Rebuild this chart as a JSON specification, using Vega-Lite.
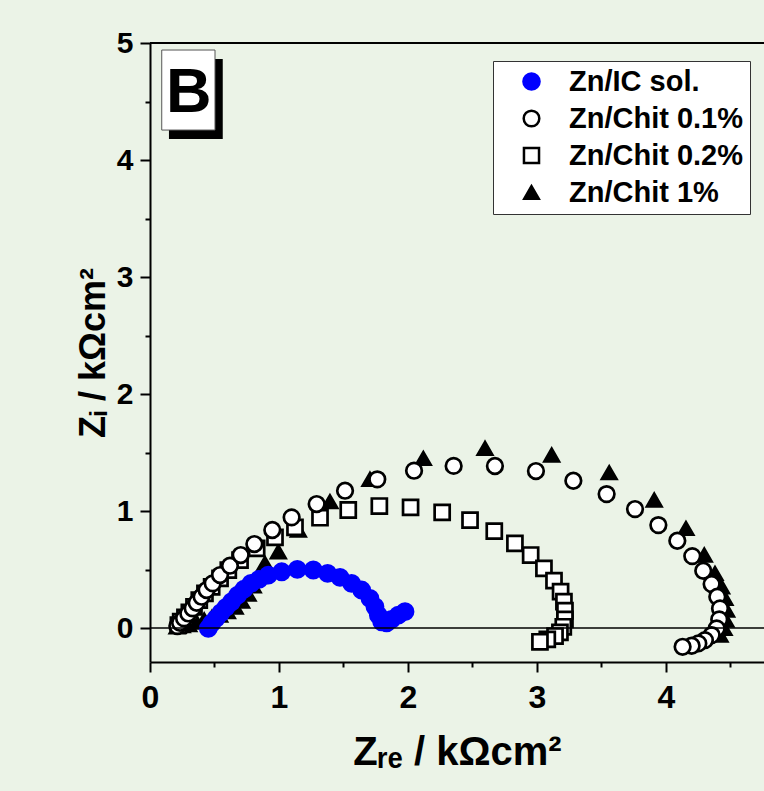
{
  "$schema": "https://vega.github.io/schema/vega-lite/v6.json",
  "width": 614,
  "height": 619,
  "autosize": {"type": "none"},
  "padding": {"left": 150, "top": 43, "right": 0, "bottom": 129},
  "background": "#ebf3e7",
  "data": {"values": [{}]},
  "config": {
    "view": {"stroke": null},
    "legend": {
      "orient": "none",
      "legendX": 343,
      "legendY": 18,
      "fillColor": "#ffffff",
      "strokeColor": "#333333",
      "strokeWidth": 1,
      "padding": 6,
      "labelFont": "Liberation Sans",
      "labelFontWeight": "bold",
      "labelFontSize": 29,
      "labelColor": "#000000",
      "labelLimit": 400,
      "labelOffset": 23,
      "symbolOffset": 18,
      "rowPadding": 7,
      "symbolStrokeWidth": 2.5
    }
  },
  "datasets": {
    "pts": [
      {"series": "Zn/Chit 1%", "zre": 0.21, "zi": 0.01},
      {"series": "Zn/Chit 1%", "zre": 0.25, "zi": 0.02},
      {"series": "Zn/Chit 1%", "zre": 0.3, "zi": 0.03},
      {"series": "Zn/Chit 1%", "zre": 0.36, "zi": 0.05},
      {"series": "Zn/Chit 1%", "zre": 0.42, "zi": 0.07},
      {"series": "Zn/Chit 1%", "zre": 0.48, "zi": 0.09},
      {"series": "Zn/Chit 1%", "zre": 0.54, "zi": 0.11},
      {"series": "Zn/Chit 1%", "zre": 0.6, "zi": 0.14},
      {"series": "Zn/Chit 1%", "zre": 0.66, "zi": 0.18},
      {"series": "Zn/Chit 1%", "zre": 0.71, "zi": 0.23},
      {"series": "Zn/Chit 1%", "zre": 0.76, "zi": 0.29},
      {"series": "Zn/Chit 1%", "zre": 0.8, "zi": 0.36},
      {"series": "Zn/Chit 1%", "zre": 0.84, "zi": 0.44},
      {"series": "Zn/Chit 1%", "zre": 0.891, "zi": 0.553},
      {"series": "Zn/Chit 1%", "zre": 0.995, "zi": 0.652},
      {"series": "Zn/Chit 1%", "zre": 1.15, "zi": 0.838},
      {"series": "Zn/Chit 1%", "zre": 1.395, "zi": 1.08},
      {"series": "Zn/Chit 1%", "zre": 1.705, "zi": 1.271},
      {"series": "Zn/Chit 1%", "zre": 2.119, "zi": 1.45},
      {"series": "Zn/Chit 1%", "zre": 2.597, "zi": 1.536},
      {"series": "Zn/Chit 1%", "zre": 3.114, "zi": 1.479},
      {"series": "Zn/Chit 1%", "zre": 3.56, "zi": 1.328},
      {"series": "Zn/Chit 1%", "zre": 3.909, "zi": 1.094},
      {"series": "Zn/Chit 1%", "zre": 4.155, "zi": 0.852},
      {"series": "Zn/Chit 1%", "zre": 4.297, "zi": 0.624},
      {"series": "Zn/Chit 1%", "zre": 4.38, "zi": 0.467},
      {"series": "Zn/Chit 1%", "zre": 4.431, "zi": 0.353},
      {"series": "Zn/Chit 1%", "zre": 4.457, "zi": 0.254},
      {"series": "Zn/Chit 1%", "zre": 4.47, "zi": 0.154},
      {"series": "Zn/Chit 1%", "zre": 4.465, "zi": 0.068},
      {"series": "Zn/Chit 1%", "zre": 4.45, "zi": -0.003},
      {"series": "Zn/Chit 1%", "zre": 4.419, "zi": -0.06},
      {"series": "Zn/Chit 0.2%", "zre": 0.22, "zi": 0.026},
      {"series": "Zn/Chit 0.2%", "zre": 0.238, "zi": 0.054},
      {"series": "Zn/Chit 0.2%", "zre": 0.271, "zi": 0.091},
      {"series": "Zn/Chit 0.2%", "zre": 0.305, "zi": 0.134},
      {"series": "Zn/Chit 0.2%", "zre": 0.341, "zi": 0.182},
      {"series": "Zn/Chit 0.2%", "zre": 0.382, "zi": 0.239},
      {"series": "Zn/Chit 0.2%", "zre": 0.426, "zi": 0.296},
      {"series": "Zn/Chit 0.2%", "zre": 0.478, "zi": 0.353},
      {"series": "Zn/Chit 0.2%", "zre": 0.543, "zi": 0.425},
      {"series": "Zn/Chit 0.2%", "zre": 0.607, "zi": 0.496},
      {"series": "Zn/Chit 0.2%", "zre": 0.698, "zi": 0.581},
      {"series": "Zn/Chit 0.2%", "zre": 0.827, "zi": 0.681},
      {"series": "Zn/Chit 0.2%", "zre": 0.969, "zi": 0.775},
      {"series": "Zn/Chit 0.2%", "zre": 1.124, "zi": 0.86},
      {"series": "Zn/Chit 0.2%", "zre": 1.318, "zi": 0.943},
      {"series": "Zn/Chit 0.2%", "zre": 1.537, "zi": 1.009},
      {"series": "Zn/Chit 0.2%", "zre": 1.778, "zi": 1.043},
      {"series": "Zn/Chit 0.2%", "zre": 2.02, "zi": 1.031},
      {"series": "Zn/Chit 0.2%", "zre": 2.265, "zi": 0.989},
      {"series": "Zn/Chit 0.2%", "zre": 2.481, "zi": 0.923},
      {"series": "Zn/Chit 0.2%", "zre": 2.669, "zi": 0.829},
      {"series": "Zn/Chit 0.2%", "zre": 2.829, "zi": 0.724},
      {"series": "Zn/Chit 0.2%", "zre": 2.951, "zi": 0.624},
      {"series": "Zn/Chit 0.2%", "zre": 3.054, "zi": 0.51},
      {"series": "Zn/Chit 0.2%", "zre": 3.132, "zi": 0.405},
      {"series": "Zn/Chit 0.2%", "zre": 3.183, "zi": 0.311},
      {"series": "Zn/Chit 0.2%", "zre": 3.209, "zi": 0.225},
      {"series": "Zn/Chit 0.2%", "zre": 3.217, "zi": 0.148},
      {"series": "Zn/Chit 0.2%", "zre": 3.217, "zi": 0.074},
      {"series": "Zn/Chit 0.2%", "zre": 3.204, "zi": 0.011},
      {"series": "Zn/Chit 0.2%", "zre": 3.178, "zi": -0.037},
      {"series": "Zn/Chit 0.2%", "zre": 3.14, "zi": -0.068},
      {"series": "Zn/Chit 0.2%", "zre": 3.08, "zi": -0.097},
      {"series": "Zn/Chit 0.2%", "zre": 3.023, "zi": -0.117},
      {"series": "Zn/Chit 0.1%", "zre": 0.212, "zi": 0.017},
      {"series": "Zn/Chit 0.1%", "zre": 0.233, "zi": 0.045},
      {"series": "Zn/Chit 0.1%", "zre": 0.264, "zi": 0.083},
      {"series": "Zn/Chit 0.1%", "zre": 0.297, "zi": 0.125},
      {"series": "Zn/Chit 0.1%", "zre": 0.331, "zi": 0.168},
      {"series": "Zn/Chit 0.1%", "zre": 0.362, "zi": 0.216},
      {"series": "Zn/Chit 0.1%", "zre": 0.4, "zi": 0.268},
      {"series": "Zn/Chit 0.1%", "zre": 0.439, "zi": 0.325},
      {"series": "Zn/Chit 0.1%", "zre": 0.486, "zi": 0.382},
      {"series": "Zn/Chit 0.1%", "zre": 0.543, "zi": 0.453},
      {"series": "Zn/Chit 0.1%", "zre": 0.62, "zi": 0.533},
      {"series": "Zn/Chit 0.1%", "zre": 0.703, "zi": 0.624},
      {"series": "Zn/Chit 0.1%", "zre": 0.809, "zi": 0.718},
      {"series": "Zn/Chit 0.1%", "zre": 0.948, "zi": 0.838},
      {"series": "Zn/Chit 0.1%", "zre": 1.098, "zi": 0.946},
      {"series": "Zn/Chit 0.1%", "zre": 1.292, "zi": 1.06},
      {"series": "Zn/Chit 0.1%", "zre": 1.512, "zi": 1.174},
      {"series": "Zn/Chit 0.1%", "zre": 1.762, "zi": 1.271},
      {"series": "Zn/Chit 0.1%", "zre": 2.047, "zi": 1.345},
      {"series": "Zn/Chit 0.1%", "zre": 2.354, "zi": 1.386},
      {"series": "Zn/Chit 0.1%", "zre": 2.674, "zi": 1.385},
      {"series": "Zn/Chit 0.1%", "zre": 2.992, "zi": 1.342},
      {"series": "Zn/Chit 0.1%", "zre": 3.282, "zi": 1.259},
      {"series": "Zn/Chit 0.1%", "zre": 3.54, "zi": 1.145},
      {"series": "Zn/Chit 0.1%", "zre": 3.76, "zi": 1.017},
      {"series": "Zn/Chit 0.1%", "zre": 3.941, "zi": 0.88},
      {"series": "Zn/Chit 0.1%", "zre": 4.088, "zi": 0.746},
      {"series": "Zn/Chit 0.1%", "zre": 4.204, "zi": 0.615},
      {"series": "Zn/Chit 0.1%", "zre": 4.289, "zi": 0.49},
      {"series": "Zn/Chit 0.1%", "zre": 4.354, "zi": 0.376},
      {"series": "Zn/Chit 0.1%", "zre": 4.398, "zi": 0.268},
      {"series": "Zn/Chit 0.1%", "zre": 4.419, "zi": 0.168},
      {"series": "Zn/Chit 0.1%", "zre": 4.413, "zi": 0.074},
      {"series": "Zn/Chit 0.1%", "zre": 4.393, "zi": -0.003},
      {"series": "Zn/Chit 0.1%", "zre": 4.354, "zi": -0.06},
      {"series": "Zn/Chit 0.1%", "zre": 4.302, "zi": -0.103},
      {"series": "Zn/Chit 0.1%", "zre": 4.251, "zi": -0.131},
      {"series": "Zn/Chit 0.1%", "zre": 4.199, "zi": -0.151},
      {"series": "Zn/Chit 0.1%", "zre": 4.129, "zi": -0.16},
      {"series": "Zn/IC sol.", "zre": 0.452, "zi": -0.003},
      {"series": "Zn/IC sol.", "zre": 0.478, "zi": 0.04},
      {"series": "Zn/IC sol.", "zre": 0.512, "zi": 0.083},
      {"series": "Zn/IC sol.", "zre": 0.55, "zi": 0.131},
      {"series": "Zn/IC sol.", "zre": 0.589, "zi": 0.177},
      {"series": "Zn/IC sol.", "zre": 0.633, "zi": 0.225},
      {"series": "Zn/IC sol.", "zre": 0.68, "zi": 0.282},
      {"series": "Zn/IC sol.", "zre": 0.729, "zi": 0.333},
      {"series": "Zn/IC sol.", "zre": 0.783, "zi": 0.382},
      {"series": "Zn/IC sol.", "zre": 0.845, "zi": 0.416},
      {"series": "Zn/IC sol.", "zre": 0.917, "zi": 0.453},
      {"series": "Zn/IC sol.", "zre": 1.021, "zi": 0.481},
      {"series": "Zn/IC sol.", "zre": 1.142, "zi": 0.501},
      {"series": "Zn/IC sol.", "zre": 1.266, "zi": 0.496},
      {"series": "Zn/IC sol.", "zre": 1.377, "zi": 0.467},
      {"series": "Zn/IC sol.", "zre": 1.473, "zi": 0.433},
      {"series": "Zn/IC sol.", "zre": 1.563, "zi": 0.382},
      {"series": "Zn/IC sol.", "zre": 1.641, "zi": 0.325},
      {"series": "Zn/IC sol.", "zre": 1.705, "zi": 0.254},
      {"series": "Zn/IC sol.", "zre": 1.744, "zi": 0.182},
      {"series": "Zn/IC sol.", "zre": 1.77, "zi": 0.111},
      {"series": "Zn/IC sol.", "zre": 1.796, "zi": 0.054},
      {"series": "Zn/IC sol.", "zre": 1.835, "zi": 0.045},
      {"series": "Zn/IC sol.", "zre": 1.873, "zi": 0.074},
      {"series": "Zn/IC sol.", "zre": 1.925, "zi": 0.111},
      {"series": "Zn/IC sol.", "zre": 1.977, "zi": 0.14}
    ]
  },
  "layer": [
    {
      "data": {"name": "pts"},
      "mark": {"type": "point", "opacity": 1, "strokeWidth": 2.7},
      "encoding": {
        "x": {
          "field": "zre",
          "type": "quantitative",
          "scale": {"domain": [0, 4.76], "nice": false, "zero": false},
          "axis": {
            "values": [0, 0.5, 1, 1.5, 2, 2.5, 3, 3.5, 4, 4.5],
            "labelExpr": "datum.value % 1 === 0 ? format(datum.value, 'd') : ''",
            "grid": false,
            "domainColor": "#000000",
            "domainWidth": 2,
            "tickColor": "#000000",
            "tickWidth": 2,
            "tickSize": {"condition": {"test": "datum.value % 1 === 0", "value": 10}, "value": 5},
            "labelFont": "Liberation Sans",
            "labelFontWeight": "bold",
            "labelFontSize": 32,
            "labelColor": "#000000",
            "labelPadding": 10,
            "labelFlush": false,
            "labelOverlap": false,
            "title": "Zᵣₑ / kΩcm²",
            "titleFont": "Liberation Sans",
            "titleFontWeight": "bold",
            "titleFontSize": 40,
            "titleColor": "#000000",
            "titlePadding": 19
          }
        },
        "y": {
          "field": "zi",
          "type": "quantitative",
          "scale": {"domain": [-0.29, 5], "nice": false, "zero": false},
          "axis": {
            "values": [0, 0.5, 1, 1.5, 2, 2.5, 3, 3.5, 4, 4.5, 5],
            "labelExpr": "datum.value % 1 === 0 ? format(datum.value, 'd') : ''",
            "grid": false,
            "domainColor": "#000000",
            "domainWidth": 2,
            "tickColor": "#000000",
            "tickWidth": 2,
            "tickSize": {"condition": {"test": "datum.value % 1 === 0", "value": 10}, "value": 5},
            "labelFont": "Liberation Sans",
            "labelFontWeight": "bold",
            "labelFontSize": 30,
            "labelColor": "#000000",
            "labelPadding": 7,
            "labelFlush": false,
            "labelOverlap": false,
            "title": "Zᵢ / kΩcm²",
            "titleFont": "Liberation Sans",
            "titleFontWeight": "bold",
            "titleFontSize": 36,
            "titleColor": "#000000",
            "titlePadding": 4
          }
        },
        "shape": {
          "field": "series", "type": "nominal", "title": null,
          "scale": {"domain": ["Zn/IC sol.", "Zn/Chit 0.1%", "Zn/Chit 0.2%", "Zn/Chit 1%"], "range": ["circle", "circle", "square", "triangle-up"]}
        },
        "fill": {
          "field": "series", "type": "nominal", "title": null,
          "scale": {"domain": ["Zn/IC sol.", "Zn/Chit 0.1%", "Zn/Chit 0.2%", "Zn/Chit 1%"], "range": ["#0000ff", "#ffffff", "#ffffff", "#000000"]}
        },
        "stroke": {
          "field": "series", "type": "nominal", "title": null,
          "scale": {"domain": ["Zn/IC sol.", "Zn/Chit 0.1%", "Zn/Chit 0.2%", "Zn/Chit 1%"], "range": ["#0000ff", "#000000", "#000000", "#000000"]}
        },
        "size": {
          "field": "series", "type": "nominal", "title": null,
          "scale": {"domain": ["Zn/IC sol.", "Zn/Chit 0.1%", "Zn/Chit 0.2%", "Zn/Chit 1%"], "range": [260, 210, 144, 330]}
        }
      }
    },
    {
      "mark": {"type": "rule", "color": "#000000", "strokeWidth": 1.5},
      "encoding": {"y": {"datum": 0, "type": "quantitative"}}
    },
    {
      "mark": {"type": "rule", "color": "#000000", "strokeWidth": 2},
      "encoding": {"y": {"datum": 5, "type": "quantitative"}}
    },
    {
      "mark": {"type": "rect", "color": "#000000"},
      "encoding": {
        "x": {"datum": 0.147, "type": "quantitative"},
        "x2": {"datum": 0.564},
        "y": {"datum": 4.863, "type": "quantitative"},
        "y2": {"datum": 4.179}
      }
    },
    {
      "mark": {"type": "rect", "fill": "#ffffff", "stroke": "#555555", "strokeWidth": 1},
      "encoding": {
        "x": {"datum": 0.091, "type": "quantitative"},
        "x2": {"datum": 0.504},
        "y": {"datum": 4.94, "type": "quantitative"},
        "y2": {"datum": 4.256}
      }
    },
    {
      "mark": {"type": "text", "text": "B", "font": "Liberation Sans", "fontWeight": "bold", "fontSize": 63, "color": "#000000", "align": "center", "baseline": "alphabetic"},
      "encoding": {
        "x": {"datum": 0.3, "type": "quantitative"},
        "y": {"datum": 4.413, "type": "quantitative"}
      }
    }
  ]
}
